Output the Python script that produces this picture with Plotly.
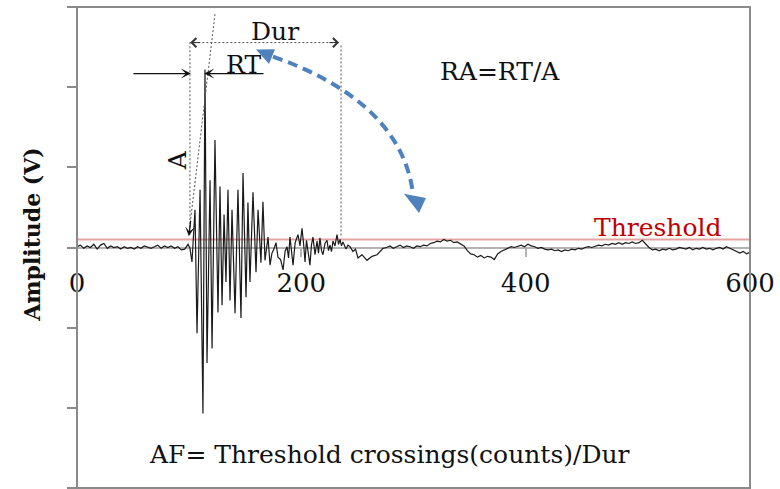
import plotly.graph_objects as go

# ---------------- data ----------------
# pre-trigger noise, sampled every 3 us from 0 to 99
pre_t = list(range(0, 100, 3))
pre_amp = [0.01, 0.03, -0.01, 0.02, 0.00, 0.04, -0.02, 0.03, 0.05, -0.01,
           0.02, 0.00, 0.01, -0.02, 0.01, -0.01, 0.00, -0.02, 0.01, -0.01,
           0.02, 0.00, -0.01, 0.01, 0.03, -0.01, 0.02, 0.00, 0.02, -0.01,
           0.01, -0.03, -0.02, 0.04]

# burst (hit) extremes
burst_t = [100.7, 102.5, 105.2, 107.0, 109.7, 112.3, 114.1, 115.9, 118.6, 120.4,
           123.0, 125.7, 127.5, 129.3, 131.1, 132.8, 134.6, 136.4, 138.2, 140.9,
           143.5, 146.2, 148.0, 150.7, 152.4, 154.2, 156.9, 159.6, 161.4, 164.0,
           165.8, 167.6, 170.3, 172.1, 173.8, 175.6, 177.4, 179.2, 181.5, 183.7,
           185.5, 187.2, 188.6, 189.9, 191.3, 192.6, 194.5, 197.0, 198.8, 200.6,
           202.0, 203.3, 204.6, 205.9, 207.7, 209.0, 210.4, 212.2, 214.0, 215.3,
           216.6, 218.0, 219.3, 221.1, 222.9, 224.2, 225.5, 226.9, 228.2, 230.0,
           231.8, 233.2, 234.5, 235.8, 237.1, 239.8, 241.6, 243.4, 246.1, 248.3,
           250.5, 254.1, 258.5, 263.0, 267.5, 272.8]
burst_amp = [-0.01, -0.18, 0.47, -1.07, 0.72, -2.07, 2.22, -1.44, 0.84, -1.26,
             1.34, -0.81, 0.76, -0.72, 0.41, -0.43, 0.72, -0.66, 0.47, -0.82,
             0.72, -0.88, 0.93, -0.62, 0.56, -0.43, 0.69, -0.31, 0.47, -0.19,
             0.57, -0.16, 0.13, -0.22, -0.07, -0.02, 0.06, -0.12, -0.15, -0.28,
             -0.05, 0.01, -0.13, 0.13, -0.05, -0.22, 0.06, 0.16, 0.02, 0.24,
             0.05, -0.18, 0.09, -0.05, -0.22, 0.03, 0.13, -0.09, 0.08, -0.07,
             0.12, -0.04, -0.09, 0.05, 0.09, -0.04, 0.03, -0.05, 0.08, 0.02,
             0.16, 0.04, 0.10, 0.02, 0.07, -0.02, 0.03, 0.01, -0.05, -0.02,
             -0.13, -0.09, -0.16, -0.11, -0.09, -0.01]

# post-hit noise, sampled every 3 us from 276 to 600
tail_t = list(range(276, 601, 3))
tail_amp = [0.00, 0.02, -0.01, 0.01, 0.03, 0.00, 0.02, 0.01, -0.01, 0.02,
            0.01, 0.03, 0.02, 0.05, 0.06, 0.08, 0.07, 0.10, 0.08, 0.09,
            0.06, 0.07, 0.04, 0.02, -0.04, -0.08, -0.09, -0.12, -0.10, -0.13,
            -0.11, -0.12, -0.15, -0.08, -0.05, -0.03, -0.01, 0.01, 0.00, 0.02,
            0.03, 0.01, 0.04, 0.02, 0.01, -0.01, 0.00, -0.02, -0.03, -0.02,
            -0.04, -0.03, -0.05, -0.03, -0.04, -0.02, -0.03, -0.01, -0.02, 0.00,
            0.01, 0.00, 0.02, 0.03, 0.02, 0.04, 0.03, 0.05, 0.04, 0.06,
            0.04, 0.06, 0.05, 0.07, 0.05, 0.06, 0.09, 0.04, 0.00, -0.03,
            -0.02, -0.04, -0.02, -0.03, -0.01, -0.03, -0.02, 0.00, -0.01, -0.02,
            0.00, -0.03, -0.01, -0.02, 0.00, -0.02, -0.01, -0.03, -0.01, 0.00,
            -0.02, 0.01, -0.01, -0.03, -0.04, -0.07, -0.05, -0.08, -0.06]

threshold = 0.1
x_ticks = [0, 200, 400, 600]
y_ticks = [-3, -2, -1, 0, 1, 2, 3]

# feature markers (us / V)
onset_t, peak_t, end_t = 101.0, 113.4, 235.4

time = pre_t + burst_t + tail_t
amp = pre_amp + burst_amp + tail_amp

SERIF = "DejaVu Serif"
fig = go.Figure()
fig.add_trace(go.Scatter(x=time, y=amp, mode="lines",
                         line=dict(color="#1a1a1a", width=1.2),
                         hoverinfo="skip", showlegend=False))

shapes = []
# threshold line
shapes.append(dict(type="line", xref="x", yref="y", x0=0, x1=600, y0=threshold, y1=threshold,
                   line=dict(color="#e6a3a3", width=2), layer="below"))
# frame
shapes.append(dict(type="rect", xref="paper", yref="paper", x0=0, x1=1, y0=0, y1=1,
                   line=dict(color="#8a8a8a", width=2)))
dot = "2px,2px"
gray = "#555555"
# vertical dotted lines (onset and end of duration)
shapes.append(dict(type="line", xref="x", yref="y", x0=onset_t - 0.3, x1=onset_t - 0.3, y0=2.56, y1=0.16,
                   line=dict(color=gray, width=1, dash=dot)))
shapes.append(dict(type="line", xref="x", yref="y", x0=end_t, x1=end_t, y0=2.52, y1=0.14,
                   line=dict(color=gray, width=1, dash=dot)))
# Dur dotted line
shapes.append(dict(type="line", xref="x", yref="y", x0=onset_t, x1=233.6, y0=2.556, y1=2.556,
                   line=dict(color=gray, width=1, dash=dot)))
# slanted dotted line (rise)
shapes.append(dict(type="line", xref="x", yref="y", x0=123.0, x1=99.8, y0=2.91, y1=0.17,
                   line=dict(color=gray, width=1, dash=dot)))
# blue dashed curved arrow
blue = "#4f81bd"
shapes.append(dict(type="path", xref="x", yref="y",
                   path="M 174.7,2.381 C 238.9,2.069 292.4,1.531 299.6,0.66",
                   line=dict(color=blue, width=4, dash="10px,6px")))
shapes.append(dict(type="path", xref="x", yref="y",
                   path="M 159.6,2.469 L 171.2,2.289 L 176.5,2.474 Z",
                   fillcolor=blue, line=dict(width=0)))
shapes.append(dict(type="path", xref="x", yref="y",
                   path="M 304.9,0.431 L 291.5,0.669 L 311.1,0.619 Z",
                   fillcolor=blue, line=dict(width=0)))

annotations = []
def txt(x, y, s, size=25, color="#111111", angle=0, xref="x", yref="y", family=SERIF):
    annotations.append(dict(x=x, y=y, xref=xref, yref=yref, text=s, showarrow=False,
                            textangle=angle, font=dict(family=family, size=size, color=color),
                            xanchor="center", yanchor="middle"))

def arrow(x, y, ax, ay, head=3, size=1.0, width=1.2, color="#111111"):
    annotations.append(dict(x=x, y=y, ax=ax, ay=ay, xref="x", yref="y", axref="x", ayref="y",
                            text="", showarrow=True, arrowhead=head, arrowsize=size,
                            arrowwidth=width, arrowcolor=color))

txt(176.5, 2.69, "Dur")
txt(148.0, 2.28, "RT")
txt(377.1, 2.19, "RA=RT/A")
txt(517.9, 0.25, "Threshold", color="#c00000")
txt(279.0, -2.58, "AF= Threshold crossings(counts)/Dur")
txt(89.2, 1.09, "A", angle=-90)
txt(-0.067, 0.17, "<b>Amplitude (V)</b>", size=22, angle=-90, xref="paper", yref="y")

# RT arrows
arrow(onset_t + 0.6, 2.17, 49.0, 2.17, head=3, size=1.3, width=1.3)
arrow(peak_t, 2.17, 167.6, 2.17, head=3, size=1.3, width=1.3)
# Dur arrowheads
arrow(onset_t, 2.556, onset_t + 10, 2.556, head=4, size=1.8, width=1.0, color="#333333")
arrow(233.6, 2.556, 223.6, 2.556, head=4, size=1.8, width=1.0, color="#333333")
# A arrowhead
arrow(99.7, 0.14, 101.5, 0.35, head=3, size=1.3, width=1.2)

fig.update_layout(
    width=780, height=489,
    margin=dict(l=77, r=30, t=7, b=1),
    paper_bgcolor="white", plot_bgcolor="white",
    shapes=shapes, annotations=annotations,
    xaxis=dict(range=[0, 600], anchor="free", position=0.5, showline=True,
               linecolor="#b3b3b3", linewidth=2, ticks="outside", ticklen=8,
               tickcolor="#b3b3b3", tickwidth=2, tickvals=x_ticks,
               tickfont=dict(family=SERIF, size=26, color="#111111"),
               showgrid=False, zeroline=False, layer="below traces",
               ticklabelstandoff=4),
    yaxis=dict(range=[-3, 3], tickvals=y_ticks, ticks="outside", ticklen=9,
               tickcolor="#8a8a8a", tickwidth=1.5, showticklabels=False,
               showgrid=False, zeroline=False, showline=False),
)

fig.write_html("out.html")
